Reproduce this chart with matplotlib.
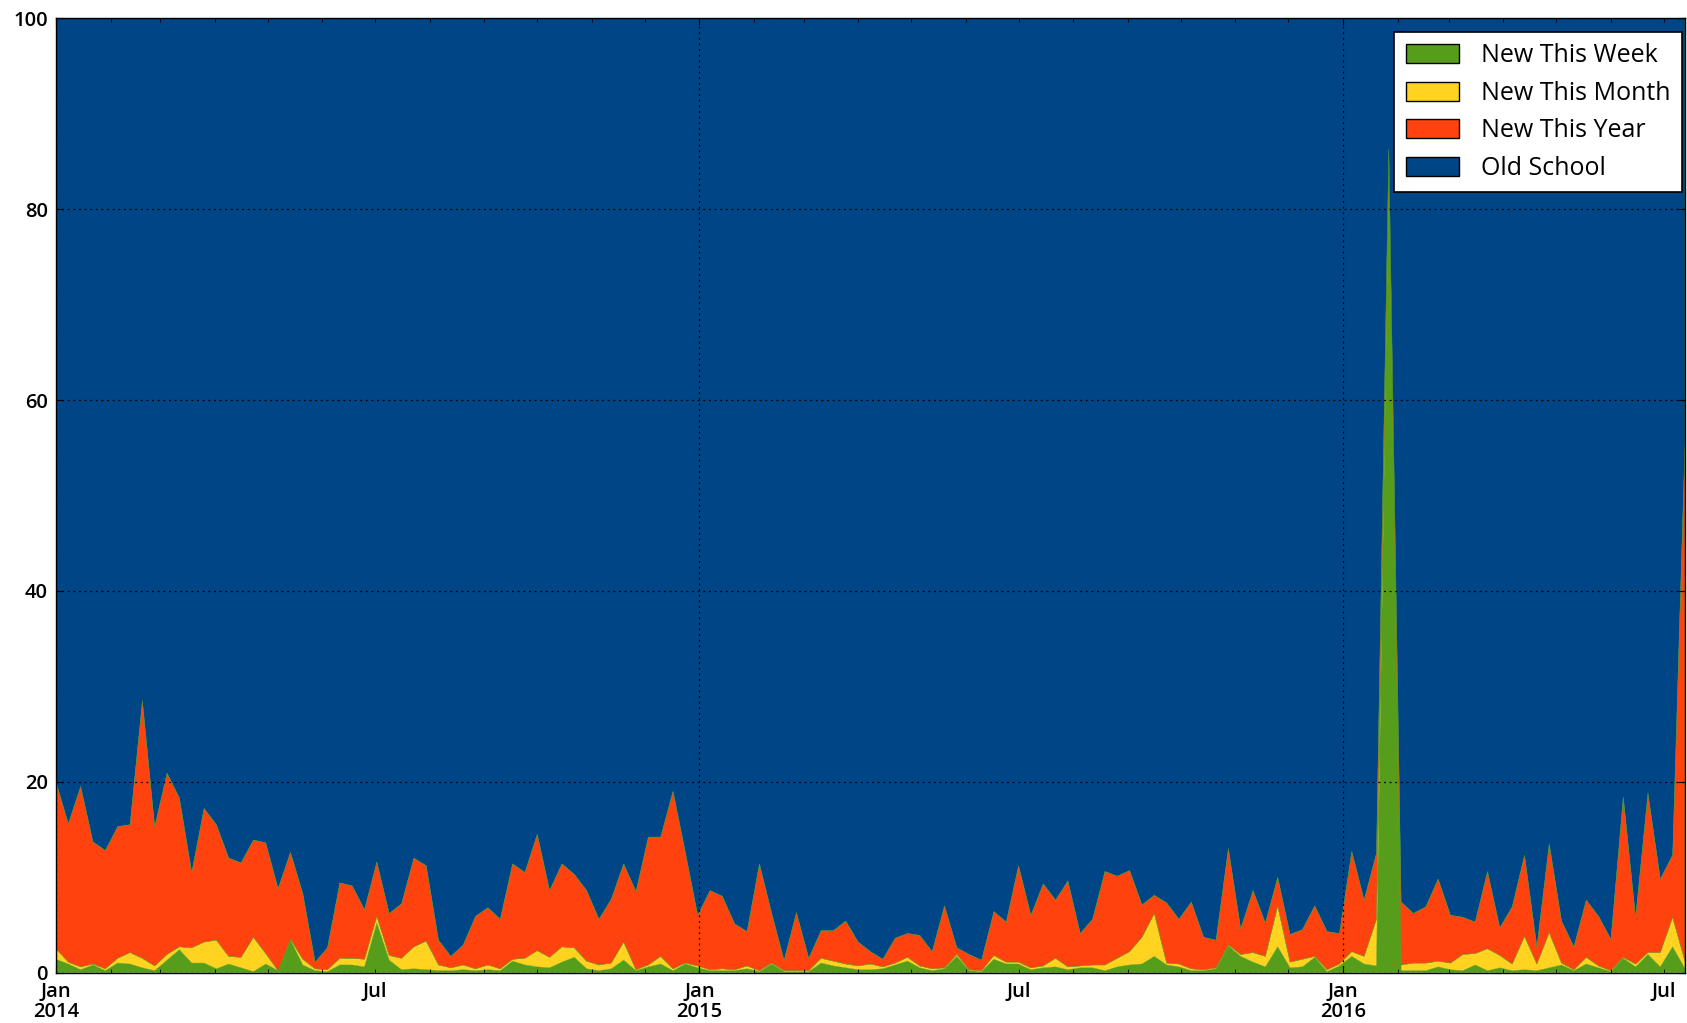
import numpy as np
import pandas as pd
import matplotlib
matplotlib.use("Agg")
import matplotlib.pyplot as plt
import matplotlib.dates as mdates
from matplotlib.patches import Patch

plt.rcParams['font.family'] = ['Open Sans', 'DejaVu Sans']

# weekly share of visitors (%), Jan 2014 .. Jul 2016
dates = pd.date_range('2014-01-01', periods=133, freq='7D')

new_week = [1.4, 0.9, 0.3, 0.8, 0.2, 1.0, 0.9, 0.5, 0.2, 1.3, 2.4, 1.0, 1.0, 0.4, 0.9, 0.5, 0.1, 0.9, 0.2, 3.4,
            0.8, 0.2, 0.1, 0.8, 0.8, 0.6, 5.2, 1.3, 0.3, 0.4, 0.3, 0.2, 0.2, 0.3, 0.2, 0.3, 0.2, 1.2, 0.8, 0.6,
            0.5, 1.1, 1.6, 0.4, 0.2, 0.4, 1.3, 0.2, 0.6, 0.9, 0.2, 0.9, 0.5, 0.2, 0.2, 0.2, 0.4, 0.1, 0.9, 0.1,
            0.1, 0.1, 1.0, 0.7, 0.5, 0.3, 0.3, 0.4, 0.8, 1.2, 0.5, 0.2, 0.4, 1.7, 0.2, 0.1, 1.4, 0.9, 0.9, 0.3,
            0.5, 0.6, 0.3, 0.5, 0.5, 0.2, 0.6, 0.8, 0.9, 1.7, 0.8, 0.6, 0.2, 0.2, 0.4, 2.8, 1.7, 1.1, 0.6, 2.7,
            0.5, 0.6, 1.6, 0.1, 0.7, 1.7, 0.9, 0.7, 84.0, 0.2, 0.2, 0.2, 0.6, 0.3, 0.2, 0.8, 0.2, 0.5, 0.2, 0.3,
            0.2, 0.5, 0.8, 0.2, 0.9, 0.5, 0.1, 1.5, 0.6, 1.9, 0.6, 2.7, 0.4]

new_month = [1.1, 0.2, 0.3, 0.1, 0.2, 0.5, 1.2, 1.0, 0.5, 0.6, 0.3, 1.6, 2.2, 3.0, 0.8, 1.1, 3.6, 1.1, 0.0, 0.1,
             0.6, 0.2, 0.2, 0.7, 0.7, 0.8, 0.7, 0.5, 1.2, 2.3, 3.0, 0.6, 0.3, 0.5, 0.2, 0.5, 0.2, 0.2, 0.7, 1.7,
             1.1, 1.6, 1.0, 0.8, 0.6, 0.6, 1.9, 0.1, 0.2, 0.8, 0.2, 0.1, 0.2, 0.1, 0.2, 0.1, 0.3, 0.1, 0.1, 0.1,
             0.1, 0.1, 0.5, 0.5, 0.4, 0.4, 0.6, 0.2, 0.2, 0.4, 0.2, 0.2, 0.1, 0.2, 0.1, 0.1, 0.4, 0.2, 0.2, 0.2,
             0.2, 0.9, 0.3, 0.2, 0.3, 0.6, 0.9, 1.4, 2.8, 4.5, 0.2, 0.3, 0.2, 0.1, 0.1, 0.1, 0.2, 1.0, 1.1, 4.3,
             0.6, 0.8, 0.1, 0.2, 0.2, 0.5, 0.8, 4.9, 0.6, 0.6, 0.8, 0.8, 0.6, 0.7, 1.7, 1.2, 2.3, 1.3, 0.7, 3.5,
             0.7, 3.7, 0.2, 0.1, 0.7, 0.2, 0.1, 0.1, 0.3, 0.2, 1.5, 3.1, 0.8]

new_year = [17.5, 14.5, 18.9, 12.8, 12.4, 13.8, 13.4, 27.0, 14.6, 19.0, 15.6, 7.9, 14.0, 12.1, 10.3, 9.9, 10.2,
            11.6, 8.6, 9.1, 6.9, 0.7, 2.3, 7.9, 7.6, 5.2, 5.7, 4.4, 5.7, 9.3, 7.9, 2.6, 1.2, 2.1, 5.5, 6.0, 5.2,
            10.0, 9.0, 12.2, 7.0, 8.7, 7.7, 7.4, 4.8, 6.7, 8.2, 8.2, 13.4, 12.5, 18.6, 11.6, 5.3, 8.3, 7.6, 4.8,
            3.6, 11.2, 5.2, 1.1, 6.1, 1.3, 2.9, 3.2, 4.5, 2.5, 1.3, 0.8, 2.6, 2.5, 3.2, 1.8, 6.5, 0.7, 1.6, 1.1,
            4.6, 4.2, 10.1, 5.5, 8.6, 6.1, 9.0, 3.4, 4.8, 9.8, 8.6, 8.5, 3.4, 1.9, 6.3, 4.7, 7.0, 3.4, 2.9, 10.1,
            2.7, 6.5, 3.5, 3.0, 2.9, 3.1, 5.3, 4.0, 3.2, 10.5, 5.9, 6.9, 1.7, 6.6, 5.2, 5.9, 8.6, 5.0, 3.9, 3.3,
            8.1, 2.9, 6.0, 8.5, 1.8, 9.3, 4.4, 2.4, 6.0, 5.2, 3.3, 16.8, 4.9, 16.7, 7.7, 6.5, 54.2]

labels = ['New This Week', 'New This Month', 'New This Year', 'Old School']
colors = ['#579d1c', '#ffd320', '#ff420e', '#004586']

new_week = np.array(new_week)
new_month = np.array(new_month)
new_year = np.array(new_year)
old_school = 100 - new_week - new_month - new_year   # rest of the 100 %

W, H = 1687, 1023
fig = plt.figure(figsize=(W / 100, H / 100), dpi=100, facecolor='white')
ax = fig.add_axes([56 / W, 50.4 / H, 1629 / W, 954.3 / H])

ax.stackplot(dates, new_week, new_month, new_year, old_school, colors=colors, linewidth=0.3,
             edgecolors=colors)

ax.set_xlim(dates[0], dates[-1])
ax.set_ylim(0, 100)

# x axis: years as major ticks (with grid), other months as minor, July labelled
ax.xaxis.set_major_locator(mdates.YearLocator())
ax.xaxis.set_major_formatter(mdates.DateFormatter('Jan\n%Y'))
ax.xaxis.set_minor_locator(mdates.MonthLocator(bymonth=range(2, 13)))
jul = lambda x, pos: 'Jul' if mdates.num2date(x).month == 7 else ''
ax.xaxis.set_minor_formatter(plt.FuncFormatter(jul))
ax.set_yticks([0, 20, 40, 60, 80, 100])

ax.tick_params(axis='both', which='both', direction='in', top=True, right=True, labelsize=14.5)
ax.tick_params(axis='both', which='major', length=5, pad=6)
ax.tick_params(axis='x', which='both', pad=7)
ax.tick_params(axis='x', which='minor', length=3)
for t in ax.get_xticklabels() + ax.get_xticklabels(minor=True) + ax.get_yticklabels():
    t.set_fontweight('semibold')
    t.set_linespacing(0.95)

ax.grid(True, which='major', color='black', linestyle=(0, (1.5, 3)), linewidth=0.9)
ax.set_axisbelow(False)
for sp in ax.spines.values():
    sp.set_linewidth(1.0)
    sp.set_zorder(5)

handles = [Patch(facecolor=c, edgecolor='black', linewidth=1.0) for c in colors]
leg = ax.legend(handles, labels, loc='upper right', bbox_to_anchor=(1682 / W, 1 - 32 / H),
                bbox_transform=fig.transFigure, borderaxespad=0, fancybox=False,
                prop={'size': 18},
                framealpha=1, edgecolor='black', handlelength=2.15, handleheight=0.8,
                handletextpad=0.88, labelspacing=0.5, borderpad=0.45)
leg.get_frame().set_linewidth(1.2)
leg.set_zorder(10)

fig.savefig('out.png', dpi=100, facecolor='white')
